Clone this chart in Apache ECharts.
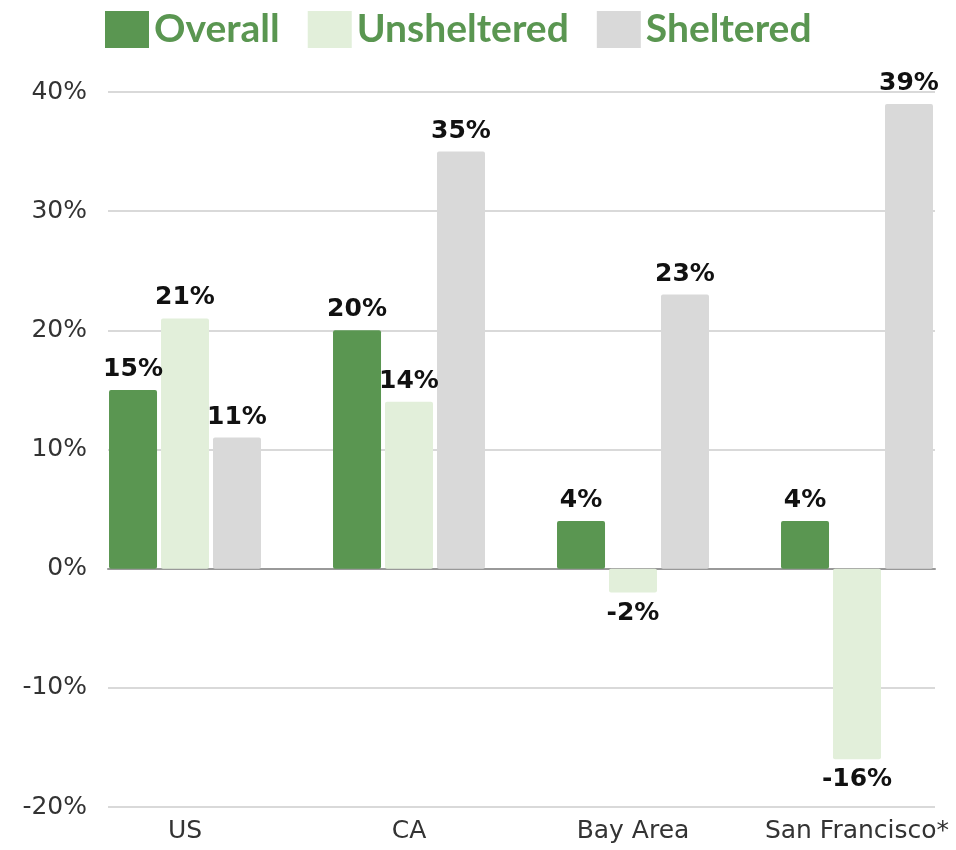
<!DOCTYPE html>
<html>
<head>
<meta charset="utf-8">
<script src="https://cdn.jsdelivr.net/npm/echarts@6/dist/echarts.min.js"></script>
<style>
html,body{margin:0;padding:0;background:#fff;}
#main{width:956px;height:850px;}
</style>
</head>
<body>
<div id="main"></div>
<script>
var categories = ['US', 'CA', 'Bay Area', 'San Francisco*'];
var overall = [15, 20, 4, 4];
var unsheltered = [21, 14, -2, -16];
var sheltered = [11, 35, 23, 39];
var yTicks = [-20, -10, 0, 10, 20, 30, 40];

var chart = echarts.init(document.getElementById('main'));

// labels go under the bar when the value is negative
function toItems(arr){
	return arr.map(function(v){
		return { value: v, label: { position: v < 0 ? 'bottom' : 'top' } };
	});
}

function barSeries(name, arr, color){
	return {
		name: name,
		type: 'bar',
		xAxisIndex: 0,
		yAxisIndex: 0,
		barWidth: 48,
		barGap: '8.3%',
		data: toItems(arr),
		itemStyle: { color: color, borderRadius: 2 },
		label: {
			show: true,
			distance: 8,
			formatter: '{c}%',
			fontFamily: 'DejaVu Sans',
			fontWeight: 'bold',
			fontSize: 25,
			color: '#111'
		}
	};
}

var option = {
	animation: false,
	textStyle: { fontFamily: 'DejaVu Sans' },
	legend: {
		top: 5,
		left: 100,
		itemWidth: 44,
		itemHeight: 37,
		itemGap: 28,
		icon: 'rect',
		textStyle: { fontSize: 39, fontWeight: 'bold', color: '#5A9651', fontFamily: 'Lato' },
		data: ['Overall', 'Unsheltered', 'Sheltered']
	},
	grid: [
		{ left: 73, width: 896, top: 92, bottom: 43, outerBoundsMode: 'none' },
		{ left: 108, right: 21, top: 92, bottom: 43, outerBoundsMode: 'none' }
	],
	xAxis: [
		{
			type: 'category', gridIndex: 0, data: categories,
			axisLine: { show: false }, axisTick: { show: false },
			axisLabel: { interval: 0, fontSize: 25, color: '#333', margin: 12, fontFamily: 'DejaVu Sans' }
		},
		{
			type: 'category', gridIndex: 1, data: categories,
			axisLine: { show: true, onZero: true, lineStyle: { color: '#999', width: 2 } },
			axisTick: { show: false }, axisLabel: { show: false }
		}
	],
	yAxis: [
		{
			type: 'value', gridIndex: 0, min: -20, max: 40, interval: 10,
			axisLabel: { show: false }, splitLine: { show: false },
			axisLine: { show: false }, axisTick: { show: false }
		},
		{
			type: 'value', gridIndex: 1, min: yTicks[0], max: yTicks[yTicks.length - 1], interval: 10,
			axisLabel: { formatter: '{value}%', fontSize: 25, color: '#333', margin: 21, fontFamily: 'DejaVu Sans' },
			splitLine: { lineStyle: { color: '#d9d9d9', width: 2 } },
			axisLine: { show: false }, axisTick: { show: false }
		}
	],
	series: [
		barSeries('Overall', overall, '#5A9651'),
		barSeries('Unsheltered', unsheltered, '#E2EFDA'),
		barSeries('Sheltered', sheltered, '#D9D9D9')
	]
};

chart.setOption(option);
</script>
</body>
</html>
